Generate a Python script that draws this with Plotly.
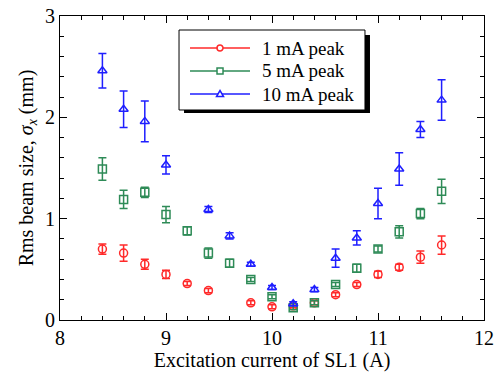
import plotly.graph_objects as go

x = [8.4, 8.6, 8.8, 9.0, 9.2, 9.4, 9.6, 9.8, 10.0, 10.2, 10.4, 10.6, 10.8, 11.0, 11.2, 11.4, 11.6]
red = [0.70, 0.66, 0.55, 0.45, 0.36, 0.29, None, 0.17, 0.13, 0.14, 0.17, 0.25, 0.35, 0.45, 0.52, 0.62, 0.74]
red_err = [0.05, 0.08, 0.05, 0.04, 0.02, 0.02, None, 0.02, 0.02, 0.02, 0.02, 0.02, 0.02, 0.03, 0.03, 0.06, 0.09]
green = [1.49, 1.19, 1.26, 1.04, 0.88, 0.66, 0.56, 0.40, 0.23, 0.12, 0.17, 0.35, 0.51, 0.70, 0.87, 1.05, 1.27]
green_err = [0.11, 0.09, 0.05, 0.08, 0.04, 0.05, 0.04, 0.02, 0.02, 0.02, 0.02, 0.02, 0.04, 0.03, 0.06, 0.05, 0.12]
blue = [2.46, 2.08, 1.96, 1.53, None, 1.09, 0.83, 0.55, 0.32, 0.16, 0.30, 0.61, 0.81, 1.15, 1.49, 1.88, 2.17]
blue_err = [0.17, 0.18, 0.20, 0.09, None, 0.03, 0.03, 0.02, 0.02, 0.02, 0.02, 0.09, 0.07, 0.15, 0.16, 0.08, 0.20]

names = ["1 mA peak", "5 mA peak", "10 mA peak"]
colors = ["#ff2a2a", "#2e8b57", "#1f1fff"]
symbols = ["circle-open", "square-open", "triangle-up-open"]
series = [red, green, blue]
errs = [red_err, green_err, blue_err]

fig = go.Figure()
for name, c, s, y, e in zip(names, colors, symbols, series, errs):
    fig.add_trace(go.Scatter(
        x=x, y=y, mode="markers", name=name, showlegend=False,
        marker=dict(symbol=s, size=8, color=c, line=dict(width=1.5, color=c)),
        error_y=dict(type="data", array=e, visible=True, color=c, thickness=1.5, width=4),
    ))

font = "Liberation Serif, Times New Roman, serif"
axis_common = dict(
    showgrid=False, zeroline=False, showline=True, linecolor="black", linewidth=1,
    mirror="ticks", ticks="inside", ticklen=7, tickwidth=1, tickcolor="black",
    tickfont=dict(family=font, size=20, color="black"), automargin=False,
    minor=dict(ticks="inside", ticklen=4, tickwidth=1, tickcolor="black", dtick=0.2),
)
fig.update_xaxes(range=[8, 12], dtick=1, tick0=8,
                 title=dict(text="Excitation current of SL1 (A)", font=dict(family=font, size=20, color="black"), standoff=0),
                 **axis_common)
fig.update_yaxes(range=[0, 3], dtick=1, tick0=0,
                 title=dict(text="Rms beam size, <i>σ<sub>x</sub></i> (mm)", font=dict(family=font, size=20, color="black"), standoff=6),
                 **axis_common)

# legend drawn by hand: box with drop shadow, line + marker + label per series
fig.add_shape(type="rect", xref="paper", yref="paper", x0=0.2925, x1=0.7311, y0=0.6809, y1=0.9375,
              fillcolor="black", line=dict(width=0))
fig.add_shape(type="rect", xref="paper", yref="paper", x0=0.2807, x1=0.7193, y0=0.6908, y1=0.9539,
              fillcolor="white", line=dict(color="black", width=1))
row_y = [0.8947, 0.8191, 0.7434]
lx0, lx1, mx, tx = 0.3066, 0.4481, 0.3774, 0.4717
for i, (name, c) in enumerate(zip(names, colors)):
    yy = row_y[i]
    fig.add_shape(type="line", xref="paper", yref="paper", x0=lx0, x1=lx1, y0=yy, y1=yy,
                  line=dict(color=c, width=1.5))
    common = dict(xref="paper", yref="paper", xsizemode="pixel", ysizemode="pixel",
                  xanchor=mx, yanchor=yy, fillcolor="white", line=dict(color=c, width=1.5))
    if i == 0:
        fig.add_shape(type="circle", x0=-3, x1=3, y0=-3, y1=3, **common)
    elif i == 1:
        fig.add_shape(type="rect", x0=-3, x1=3, y0=-3, y1=3, **common)
    else:
        fig.add_shape(type="path", path="M-3.5,-2.5 L3.5,-2.5 L0,3.5 Z", **common)
    fig.add_annotation(x=tx, y=yy, xref="paper", yref="paper", text=name, showarrow=False,
                       xanchor="left", yanchor="middle",
                       font=dict(family=font, size=19, color="black"))

fig.update_layout(
    width=496, height=374,
    margin=dict(l=60, r=12, t=16, b=54),
    paper_bgcolor="white", plot_bgcolor="white",
    font=dict(family=font, color="black"),
    showlegend=False,
)
fig.write_html("out.html", config={"displayModeBar": False},
               post_script="document.body.style.margin='0';")
